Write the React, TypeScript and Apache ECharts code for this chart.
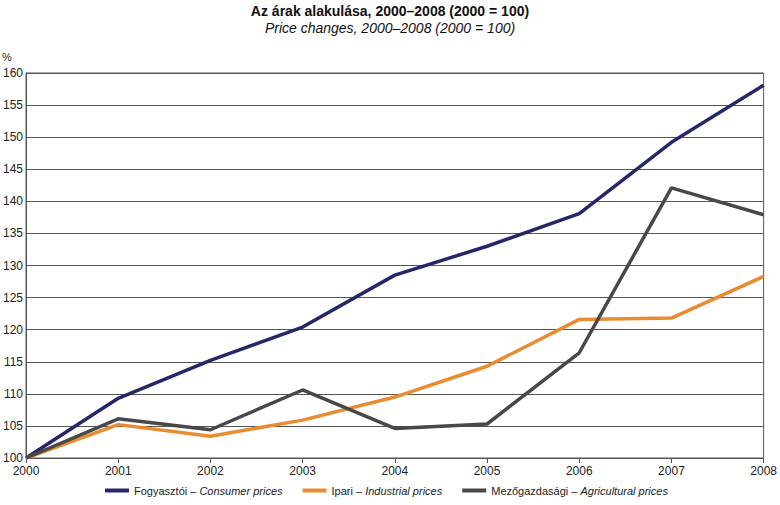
import React, { useEffect, useRef } from "react";
import * as echarts from "echarts";

const years = ["2000", "2001", "2002", "2003", "2004", "2005", "2006", "2007", "2008"];
const consumer = [100, 109.3, 115.2, 120.4, 128.5, 133.0, 138.1, 149.2, 158.1];
const industrial = [100, 105.2, 103.4, 105.9, 109.5, 114.3, 121.6, 121.8, 128.3];
const agricultural = [100, 106.1, 104.4, 110.6, 104.6, 105.3, 116.4, 142.1, 137.9];

const seriesNames = [
  "Fogyasztói – {i|Consumer prices}",
  "Ipari – {i|Industrial prices}",
  "Mezőgazdasági – {i|Agricultural prices}",
];
const colors = ["#26266b", "#e98b2f", "#484848"];

const FONT = "'Liberation Sans Narrow', 'Arial Narrow', 'Liberation Sans', Arial, sans-serif";

export default function App() {
  const ref = useRef<HTMLDivElement>(null);
  useEffect(() => {
    if (!ref.current) return;
    const chart = echarts.init(ref.current, undefined, { renderer: "svg" });
    const data = [consumer, industrial, agricultural];
    chart.setOption({
      animation: false,
      backgroundColor: "#ffffff",
      textStyle: { fontFamily: FONT },
      title: {
        text: "Az árak alakulása, 2000–2008 (2000 = 100)",
        subtext: "Price changes, 2000–2008 (2000 = 100)",
        left: "center",
        top: -1,
        itemGap: 3,
        textStyle: { fontFamily: FONT, fontSize: 14, fontWeight: "bold", color: "#111" },
        subtextStyle: { fontFamily: FONT, fontSize: 14, fontStyle: "italic", color: "#111" },
      },
      graphic: [
        {
          type: "text",
          left: 2,
          top: 51,
          style: { text: "%", fontFamily: FONT, fontSize: 11, fill: "#222" },
        },
      ],
      legend: {
        bottom: 4,
        left: 100,
        itemWidth: 24,
        itemHeight: 4,
        itemGap: 20,
        icon: "rect",
        data: seriesNames,
        formatter: (n: string) => n,
        textStyle: {
          fontFamily: FONT,
          fontSize: 11,
          color: "#222",
          rich: { i: { fontStyle: "italic", fontFamily: FONT, fontSize: 11, color: "#222" } },
        },
      },
      grid: {
        left: 22,
        right: 13,
        top: 73,
        bottom: 47,
        show: true,
        borderColor: "#555",
        borderWidth: 1,
      },
      xAxis: {
        type: "category",
        data: years,
        boundaryGap: false,
        axisLine: { lineStyle: { color: "#555", width: 1 } },
        axisTick: { show: true, length: 5, lineStyle: { color: "#555" } },
        axisLabel: { color: "#222", fontSize: 12, fontFamily: FONT, margin: 7 },
      },
      yAxis: {
        type: "value",
        min: 100,
        max: 160,
        interval: 5,
        axisLine: { show: true, lineStyle: { color: "#555", width: 1 } },
        axisTick: { show: false },
        splitLine: { lineStyle: { color: "#555", width: 1 } },
        axisLabel: { color: "#222", fontSize: 12, fontFamily: FONT, margin: 3 },
      },
      series: seriesNames.map((name, k) => ({
        name,
        type: "line",
        data: data[k],
        symbol: "none",
        color: colors[k],
        lineStyle: { width: 3.5, color: colors[k] },
      })),
    });
    return () => chart.dispose();
  }, []);
  return (
    <div
      ref={ref}
      style={{ position: "fixed", left: 0, top: 0, width: 780, height: 505 }}
    />
  );
}
